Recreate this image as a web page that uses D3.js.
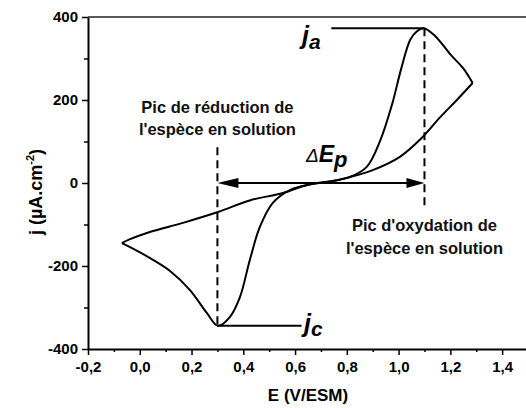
<!DOCTYPE html>
<html>
<head>
<meta charset="utf-8">
<script src="https://cdn.jsdelivr.net/npm/d3@7"></script>
<style>
  body { margin: 0; background: #fff; }
  text { font-family: "Liberation Sans", Arial, sans-serif; }
</style>
</head>
<body>
<script>
// forward scan (left vertex -> right vertex), potentials in V/ESM, currents in uA/cm2
const forwardE = [-0.069, -0.03, 0.04, 0.117, 0.194, 0.259, 0.302, 0.348, 0.387, 0.425, 0.464, 0.514, 0.58, 0.66, 0.746, 0.81, 0.877, 0.93, 0.975, 1.01, 1.045, 1.07, 1.097, 1.14, 1.2, 1.25, 1.286]
const forwardJ = [-145, -157, -181, -212, -258, -313, -344, -323, -275, -186, -106, -48, -17, -3, 5, 14, 39, 104, 190, 275, 345, 365, 373, 355, 310, 276, 241]
// reverse scan, stored in ascending potential order
const reverseE = [-0.069, -0.04, 0.039, 0.167, 0.302, 0.425, 0.553, 0.65, 0.74, 0.81, 0.9, 1.005, 1.082, 1.16, 1.225, 1.286]
const reverseJ = [-145, -136, -118, -96, -70, -42, -24, -4, 4, 14, 31, 63, 104, 158, 200, 241]

// peaks: cathodic, anodic
const peakE = [0.3, 1.1]
const peakJ = [-344, 373]

const xMajorTicks = [-0.2, 0.0, 0.2, 0.4, 0.6, 0.8, 1.0, 1.2, 1.4]
const xMinorTicks = [-0.1, 0.1, 0.3, 0.5, 0.7, 0.9, 1.1, 1.3, 1.5]
const yMajorTicks = [-400, -200, 0, 200, 400]
const yMinorTicks = [-300, -100, 100, 300]

window.onload = function () {

    const width = 526, height = 408
    const svg = d3.select('body').append('svg')
        .attr('width', width)
        .attr('height', height)

    const x = d3.scaleLinear().domain([-0.2, 1.5]).range([88, 528])
    const y = d3.scaleLinear().domain([-400, 400]).range([349, 17])

    const fr = d3.formatLocale({decimal: ",", thousands: ".", grouping: [3], currency: ["", ""], minus: "-"})
    const fmtX = fr.format(".1f")
    const fmtY = fr.format("d")

    // axes
    const xAxis = svg.append('g')
        .attr('transform', 'translate(0,' + y(-400) + ')')
        .call(d3.axisBottom(x).tickValues(xMajorTicks).tickFormat(fmtX).tickSize(6).tickSizeOuter(0))
    xAxis.append('g')
        .call(d3.axisBottom(x).tickValues(xMinorTicks).tickFormat('').tickSize(3).tickSizeOuter(0))
        .select('.domain').remove()

    const yAxis = svg.append('g')
        .attr('transform', 'translate(' + x(-0.2) + ',0)')
        .call(d3.axisLeft(y).tickValues(yMajorTicks).tickFormat(fmtY).tickSize(6).tickSizeOuter(0))
    yAxis.append('g')
        .call(d3.axisLeft(y).tickValues(yMinorTicks).tickFormat('').tickSize(4).tickSizeOuter(0))
        .select('.domain').remove()

    svg.selectAll('.domain').attr('stroke', '#000').attr('stroke-width', 2)
    svg.selectAll('.tick line').attr('stroke', '#000').attr('stroke-width', 1.5)
    xAxis.selectAll('.tick text')
        .attr('dy', '0.9em')
        .style('font-size', '15px').style('font-weight', 'bold')
    yAxis.selectAll('.tick text')
        .attr('dx', '-1px')
        .style('font-size', '15px').style('font-weight', 'bold')

    // top frame line
    svg.append('line')
        .attr('x1', x(-0.2)).attr('x2', width)
        .attr('y1', y(400)).attr('y2', y(400))
        .attr('stroke', '#222').attr('stroke-width', 1.5)

    // axis titles
    svg.append('text')
        .attr('x', 308).attr('y', 401)
        .attr('text-anchor', 'middle')
        .style('font-size', '17px').style('font-weight', 'bold')
        .text('E (V/ESM)')

    const yTitle = svg.append('text')
        .attr('transform', 'translate(42,192) rotate(-90)')
        .attr('text-anchor', 'middle')
        .style('font-size', '18px').style('font-weight', 'bold')
    yTitle.append('tspan').text('j (µA.cm')
    yTitle.append('tspan').attr('dy', '-8').style('font-size', '11px').text('-2')
    yTitle.append('tspan').attr('dy', '8').text(')')

    // voltammogram
    const line = d3.line()
        .x(d => x(d[0]))
        .y(d => y(d[1]))
        .curve(d3.curveCatmullRom.alpha(0.5))

    const branches = [
        d3.zip(forwardE, forwardJ),
        d3.zip(reverseE, reverseJ)
    ]
    svg.selectAll('path.cv')
        .data(branches)
        .join('path')
        .attr('class', 'cv')
        .attr('d', line)
        .attr('fill', 'none')
        .attr('stroke', '#000')
        .attr('stroke-width', 2)

    // dashed peak markers
    svg.append('line')
        .attr('x1', x(peakE[0])).attr('x2', x(peakE[0]))
        .attr('y1', y(86)).attr('y2', y(peakJ[0]))
        .attr('stroke', '#000').attr('stroke-width', 2).attr('stroke-dasharray', '8,5')
    svg.append('line')
        .attr('x1', x(peakE[1])).attr('x2', x(peakE[1]))
        .attr('y1', y(peakJ[1])).attr('y2', y(-65))
        .attr('stroke', '#000').attr('stroke-width', 2).attr('stroke-dasharray', '8,5')

    // peak current lines
    svg.append('line')
        .attr('x1', x(0.74)).attr('x2', x(peakE[1]))
        .attr('y1', y(peakJ[1])).attr('y2', y(peakJ[1]))
        .attr('stroke', '#000').attr('stroke-width', 2)
    svg.append('line')
        .attr('x1', x(peakE[0])).attr('x2', x(0.625))
        .attr('y1', y(peakJ[0])).attr('y2', y(peakJ[0]))
        .attr('stroke', '#000').attr('stroke-width', 2)

    // delta Ep double arrow
    const ax1 = x(peakE[0]), ax2 = x(peakE[1]), ay = y(0)
    svg.append('line')
        .attr('x1', ax1 + 10).attr('x2', ax2 - 10)
        .attr('y1', ay).attr('y2', ay)
        .attr('stroke', '#000').attr('stroke-width', 2)
    svg.append('path')
        .attr('d', 'M' + ax1 + ',' + ay + 'L' + (ax1 + 21) + ',' + (ay - 5) + 'L' + (ax1 + 21) + ',' + (ay + 5) + 'Z')
        .attr('fill', '#000')
    svg.append('path')
        .attr('d', 'M' + ax2 + ',' + ay + 'L' + (ax2 - 18) + ',' + (ay - 5) + 'L' + (ax2 - 18) + ',' + (ay + 5) + 'Z')
        .attr('fill', '#000')

    // labels
    function label(xp, yp, lines, gap){
        svg.append('g').selectAll('text')
            .data(lines)
            .join('text')
            .attr('x', xp)
            .attr('y', (d, i) => yp + i * gap)
            .attr('text-anchor', 'middle')
            .style('font-size', '16.5px')
            .style('font-weight', 'bold')
            .style('fill', '#111')
            .text(d => d)
    }
    label(x(peakE[0]), 113, ["Pic de réduction de", "l'espèce en solution"], 22)
    label(x(peakE[1]), 231, ["Pic d'oxydation de", "l'espèce en solution"], 23)

    const ja = svg.append('text')
        .attr('x', 302).attr('y', 44)
        .style('font-weight', 'bold').style('font-style', 'italic')
    ja.append('tspan').style('font-size', '25px').text('j')
    ja.append('tspan').attr('dy', 5).style('font-size', '21px').text('a')

    const jc = svg.append('text')
        .attr('x', 304).attr('y', 332)
        .style('font-weight', 'bold').style('font-style', 'italic')
    jc.append('tspan').style('font-size', '25px').text('j')
    jc.append('tspan').attr('dy', 4).style('font-size', '21px').text('c')

    const dep = svg.append('text')
        .attr('x', 306).attr('y', 162)
        .style('font-style', 'italic')
    dep.append('tspan').style('font-size', '19px').text('Δ')
    dep.append('tspan').style('font-size', '23px').style('font-weight', 'bold').text('E')
    dep.append('tspan').attr('dy', 5).style('font-size', '22px').style('font-weight', 'bold').text('p')
}
</script>
</body>
</html>
